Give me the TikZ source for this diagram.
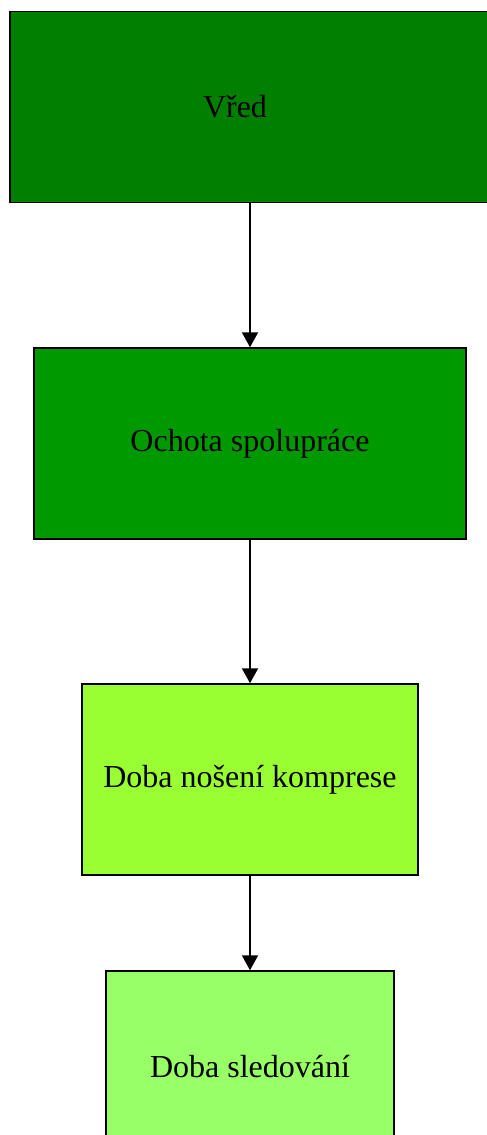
\documentclass[tikz,border=0pt]{standalone}
\usepackage{fontspec}
\setmainfont{Liberation Serif}
\usetikzlibrary{arrows.meta}
\definecolor{vredgreen}{HTML}{007F00}
\definecolor{ochotagreen}{HTML}{009900}
\definecolor{nosenigreen}{HTML}{99FF33}
\definecolor{sledgreen}{HTML}{99FF66}
\tikzset{
  factor/.style={draw, line width=1.5pt, rectangle, inner sep=0pt,
    minimum height=191pt, font=\fontsize{32}{36}\selectfont},
  link/.style={line width=2pt, -{Triangle[width=16pt,length=15pt]}}
}
\begin{document}
\begin{tikzpicture}[x=1pt,y=-1pt]
\useasboundingbox (0,0) rectangle (487,1135);
\node (0) at (250,107) [factor, fill=vredgreen, minimum width=480pt,
  label={[font=\fontsize{32}{36}\selectfont, xshift=-15pt]center:Vřed}] {};
\node (1) at (250,443.5) [factor, fill=ochotagreen, minimum width=432pt] {Ochota spolupráce};
\node (2) at (250,779.5) [factor, fill=nosenigreen, minimum width=336pt] {Doba nošení komprese};
\node (3) at (250,1066.5) [factor, fill=sledgreen, minimum width=288pt] {Doba sledování};

\draw[link]
(0) to (1);
\draw[link]
(1) to (2);
\draw[link]
(2) to (3);
\end{tikzpicture}
\end{document}
